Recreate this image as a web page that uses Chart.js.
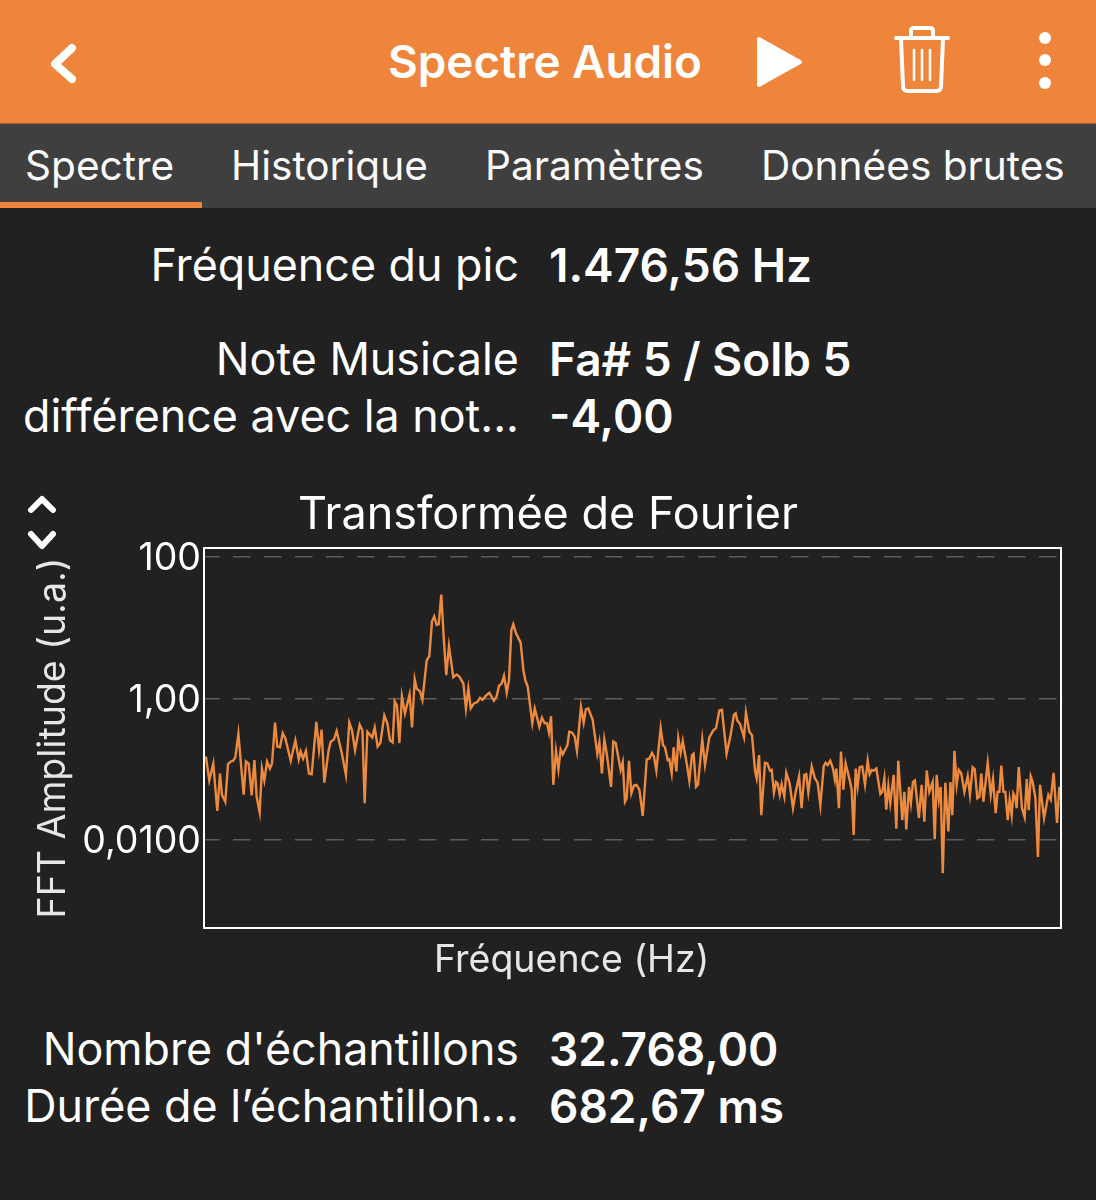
<!DOCTYPE html>
<html>
  <head>
    <meta charset="UTF-8" />
    <title>Spectre Audio</title>
    <script src="https://cdn.jsdelivr.net/npm/chart.js@4"></script>
    <style>
      html, body { margin: 0; padding: 0; background: #212121; }
      body { width: 1096px; height: 1200px; position: relative; overflow: hidden; font-family: Inter, "Noto Sans", sans-serif; color: #fff; }
      .header { position: absolute; left: 0; top: 0; width: 1096px; height: 123px; background: #EF853B; border-bottom: 1px solid #a85c28; }
      .tabs { position: absolute; left: 0; top: 124px; width: 1096px; height: 84px; background: #3F3F3F; }
      .underline { position: absolute; left: 0; top: 202px; width: 202px; height: 6px; background: #EF853B; }
      .txt { position: absolute; white-space: nowrap; line-height: 1; transform: translateY(-50%); }
      .lbl { right: 577px; font-size: 44.8px; font-weight: 400; }
      .val { left: 549px; font-size: 46px; font-weight: 600; }
      .tab { font-size: 40.6px; top: 166px; color: #fafafa; }
      svg { position: absolute; left: 0; top: 0; }
      #wrap { position: absolute; left: 0; top: 486px; width: 1096px; height: 500px; }
    </style>
  </head>
  <body>
    <div class="header"></div>
    <div class="tabs"></div>
    <div class="underline"></div>

    <svg width="1096" height="560" fill="none" stroke="#fff" stroke-linecap="round" stroke-linejoin="round">
      <path d="M72 48 L55 64 L72 79" stroke-width="8" />
      <path d="M759 39 L800 62 L759 85 Z" fill="#fff" stroke-width="4" />
      <path d="M896 38 H948" stroke-width="4" />
      <path d="M911 37 V31 Q911 28 914 28 H930 Q933 28 933 31 V37" stroke-width="4" />
      <path d="M901 39 L903 86 Q903 91 908 91 H936 Q941 91 941 86 L943 39" stroke-width="4" />
      <path d="M914 50 V80 M922 50 V80 M930 50 V80" stroke-width="2.5" />
      <circle cx="1045" cy="38" r="6" fill="#fff" stroke="none" />
      <circle cx="1045" cy="60" r="6" fill="#fff" stroke="none" />
      <circle cx="1045" cy="83" r="6" fill="#fff" stroke="none" />
      <path d="M31 510 L42 499 L53 510" stroke-width="6" />
      <path d="M31 534 L42 546 L53 534" stroke-width="6" />
    </svg>

    <div class="txt" style="left:388px;top:62px;font-size:45.8px;font-weight:600">Spectre Audio</div>
    <div class="txt tab" style="left:25px">Spectre</div>
    <div class="txt tab" style="left:231px">Historique</div>
    <div class="txt tab" style="left:485px">Paramètres</div>
    <div class="txt tab" style="left:761px">Données brutes</div>

    <div class="txt lbl" style="top:265px">Fréquence du pic</div>
    <div class="txt val" style="top:265px">1.476,56 Hz</div>
    <div class="txt lbl" style="top:359px">Note Musicale</div>
    <div class="txt val" style="top:359px">Fa# 5 / Solb 5</div>
    <div class="txt lbl" style="top:416px">différence avec la not...</div>
    <div class="txt val" style="top:416px">-4,00</div>

    <div id="wrap"><canvas id="chart" width="1096" height="500"></canvas></div>
    <div class="txt" style="left:434px;top:959px;font-size:37.5px;color:#e6e6e6">Fréquence (Hz)</div>

    <div class="txt lbl" style="top:1049px">Nombre d'échantillons</div>
    <div class="txt val" style="top:1049px">32.768,00</div>
    <div class="txt lbl" style="top:1106px">Durée de l’échantillon...</div>
    <div class="txt val" style="top:1106px">682,67 ms</div>

    <script>
      // frequency in Hz
      const frequencies = [
        6, 27, 52, 77, 94, 106, 127, 144, 161, 177, 190, 209, 223, 242, 256, 273, 292, 309, 323, 342,
        356, 371, 388, 406, 419, 438, 452, 469, 486, 502, 536, 565, 586, 598, 613, 631, 650, 667, 696, 713,
        729, 746, 773, 786, 806, 823, 856, 881, 902, 919, 938, 967, 984, 998, 1015, 1046, 1061, 1079, 1096, 1121,
        1140, 1156, 1173, 1186, 1200, 1215, 1231, 1250, 1279, 1294, 1311, 1323, 1344, 1359, 1386, 1402, 1419, 1433, 1448, 1461,
        1477, 1492, 1508, 1525, 1552, 1573, 1590, 1615, 1631, 1646, 1661, 1681, 1702, 1719, 1735, 1756, 1777, 1806, 1823, 1838,
        1854, 1869, 1886, 1900, 1915, 1927, 1944, 1973, 1990, 2002, 2017, 2046, 2061, 2090, 2106, 2123, 2138, 2150, 2163, 2177,
        2194, 2209, 2223, 2236, 2265, 2277, 2294, 2311, 2325, 2350, 2367, 2381, 2396, 2423, 2452, 2465, 2481, 2496, 2511, 2538,
        2552, 2567, 2598, 2611, 2625, 2636, 2650, 2665, 2681, 2698, 2715, 2736, 2761, 2777, 2794, 2806, 2821, 2848, 2863, 2875,
        2892, 2902, 2917, 2929, 2946, 2958, 2973, 2986, 3011, 3027, 3044, 3054, 3069, 3081, 3108, 3125, 3152, 3177, 3194, 3215,
        3231, 3260, 3285, 3306, 3317, 3327, 3344, 3369, 3381, 3402, 3419, 3438, 3448, 3463, 3477, 3500, 3515, 3531, 3542, 3556,
        3569, 3579, 3592, 3604, 3621, 3633, 3654, 3675, 3692, 3713, 3729, 3746, 3758, 3771, 3792, 3812, 3829, 3846, 3867, 3879,
        3892, 3908, 3925, 3937, 3946, 3962, 3975, 3990, 4004, 4029, 4042, 4054, 4067, 4079, 4092, 4108, 4125, 4142, 4154, 4167,
        4179, 4196, 4221, 4233, 4246, 4258, 4271, 4283, 4304, 4321, 4333, 4358, 4371, 4383, 4400, 4412, 4425, 4437, 4462, 4479,
        4496, 4511, 4527, 4548, 4561, 4573, 4586, 4598, 4611, 4627, 4646, 4659, 4671, 4684, 4698, 4711, 4727, 4746, 4767, 4781,
        4798, 4811, 4827, 4840, 4852, 4865, 4892, 4911, 4925, 4942, 4954, 4965, 4977, 4990, 5002, 5017, 5029, 5042, 5052, 5063,
        5073, 5086, 5106, 5123, 5136, 5148, 5161, 5173, 5190, 5206, 5219, 5244, 5271, 5286, 5304, 5325, 5340
      ]
      // log10 of the FFT amplitude at each frequency
      const logAmplitudes = [
        -0.82, -1.16, -0.92, -1.59, -1.06, -1.36, -1.46, -0.93, -0.89, -0.88, -0.83, -0.50, -0.87, -1.36, -0.89, -0.92, -1.37, -0.87, -1.39, -1.61,
        -0.99, -1.16, -0.89, -0.99, -0.92, -0.34, -0.68, -0.69, -0.49, -0.56, -0.88, -0.59, -0.86, -0.75, -0.85, -0.74, -1.06, -1.07, -0.33, -0.73,
        -0.44, -1.19, -0.73, -0.61, -0.58, -0.46, -0.78, -1.08, -0.34, -0.45, -0.73, -0.37, -0.45, -1.48, -0.47, -0.55, -0.41, -0.68, -0.63, -0.24,
        -0.35, -0.59, -0.62, -0.04, -0.10, -0.63, 0.03, -0.21, 0.06, -0.41, 0.27, 0.14, 0.10, -0.02, 0.54, 0.60, 1.09, 1.16, 1.04, 1.05,
        1.47, 0.87, 0.33, 0.74, 0.30, 0.34, 0.31, 0.21, -0.14, 0.14, -0.14, -0.07, -0.05, 0.01, -0.02, 0.04, 0.08, -0.03, 0.03, 0.18,
        0.21, 0.32, 0.08, 0.26, 0.97, 1.05, 0.92, 0.79, 0.40, 0.26, 0.17, -0.35, -0.14, -0.40, -0.27, -0.35, -0.35, -0.48, -0.25, -1.22,
        -0.74, -1.00, -0.72, -0.79, -0.66, -0.47, -0.48, -0.54, -0.74, -0.12, -0.34, -0.15, -0.14, -0.30, -0.78, -0.62, -1.06, -0.58, -0.78, -1.25,
        -0.61, -0.63, -1.01, -0.90, -1.46, -1.41, -0.88, -1.34, -1.23, -1.22, -1.29, -1.66, -0.86, -0.85, -0.77, -0.82, -1.02, -0.42, -0.66, -0.69,
        -0.87, -0.86, -1.06, -0.69, -1.03, -0.56, -0.77, -0.60, -0.92, -1.16, -0.80, -0.78, -1.25, -1.22, -0.58, -0.94, -0.55, -0.45, -0.42, -0.17,
        -0.16, -0.78, -0.52, -0.23, -0.21, -0.31, -0.36, -0.55, -0.20, -0.47, -0.52, -1.03, -1.13, -0.80, -1.65, -0.91, -0.92, -1.02, -1.01, -1.33,
        -1.18, -1.20, -1.36, -1.21, -1.39, -1.05, -1.20, -1.55, -1.32, -1.10, -1.55, -1.08, -1.07, -1.33, -0.96, -1.13, -1.19, -1.51, -0.96, -0.91,
        -0.94, -0.88, -0.99, -1.15, -0.99, -1.55, -0.75, -1.29, -0.92, -1.15, -1.29, -1.93, -0.99, -1.24, -0.97, -0.96, -1.22, -0.88, -1.07, -1.01,
        -1.02, -0.99, -1.35, -1.32, -1.13, -1.57, -1.24, -1.48, -1.08, -1.84, -0.88, -1.72, -1.32, -1.85, -1.25, -1.48, -1.18, -1.16, -1.69, -1.22,
        -1.74, -1.02, -1.32, -1.18, -1.99, -1.08, -1.43, -1.25, -2.47, -1.19, -1.88, -1.18, -1.65, -0.74, -1.22, -1.01, -1.06, -1.32, -1.10, -1.36,
        -0.97, -1.00, -1.41, -1.39, -1.06, -1.46, -0.91, -1.36, -1.14, -1.62, -1.32, -1.32, -0.95, -1.32, -1.32, -1.72, -1.43, -1.65, -1.34, -1.39,
        -1.55, -0.97, -1.55, -1.68, -1.14, -1.58, -1.10, -1.18, -1.41, -2.24, -1.22, -1.69, -1.36, -1.43, -1.05, -1.76, -1.25
      ]
      const tickValues = [100, 1, 0.01]
      const tickLabels = ['100', '1,00', '0,0100']

      const frame = {
        id: 'frame',
        afterDraw(chart) {
          const a = chart.chartArea
          const c = chart.ctx
          c.save()
          c.strokeStyle = '#fff'
          c.lineWidth = 2
          c.strokeRect(a.left, a.top, a.right - a.left, a.bottom - a.top)
          c.restore()
        }
      }

      new Chart(document.querySelector('#chart'), {
        type: 'line',
        data: {
          datasets: [{
            data: frequencies.map((f, i) => ({ x: f, y: Math.pow(10, logAmplitudes[i]) })),
            borderColor: '#EE8A3E',
            borderWidth: 2.4,
            pointRadius: 0,
            tension: 0
          }]
        },
        plugins: [frame],
        options: {
          responsive: false,
          animation: false,
          devicePixelRatio: 1,
          plugins: {
            legend: { display: false },
            tooltip: { enabled: false },
            title: {
              display: true,
              text: 'Transformée de Fourier',
              color: '#fff',
              font: { family: 'Inter', size: 45, weight: '400' },
              padding: { top: 2, bottom: 6 }
            }
          },
          scales: {
            x: {
              type: 'linear',
              min: -6,
              max: 5350,
              grid: { display: false },
              border: { display: false },
              ticks: { display: false },
              afterFit(scale) { scale.height = 58 }
            },
            y: {
              type: 'logarithmic',
              min: 5.7e-4,
              max: 134,
              afterBuildTicks(scale) { scale.ticks = tickValues.map(v => ({ value: v })) },
              afterFit(scale) { scale.width = 204 },
              border: { display: false, dash: [17.5, 13.5], dashOffset: 2 },
              grid: {
                color: '#5c5c5c',
                lineWidth: 1.5,
                drawTicks: false,
                tickLength: 0
              },
              ticks: {
                autoSkip: false,
                color: '#fff',
                padding: 3,
                labelOffset: 2,
                font: { family: 'Inter', size: 37.5 },
                callback(value, index) { return tickLabels[index] }
              },
              title: {
                display: true,
                text: 'FFT Amplitude (u.a.)',
                color: '#e6e6e6',
                font: { family: 'Inter', size: 37.5 },
                padding: { top: 31, bottom: 0 }
              }
            },
            // empty axis, only keeps the margin right of the frame
            right: {
              position: 'right',
              grid: { display: false },
              border: { display: false },
              ticks: { display: false },
              afterFit(scale) { scale.width = 35 }
            }
          }
        }
      })
    </script>
  </body>
</html>
